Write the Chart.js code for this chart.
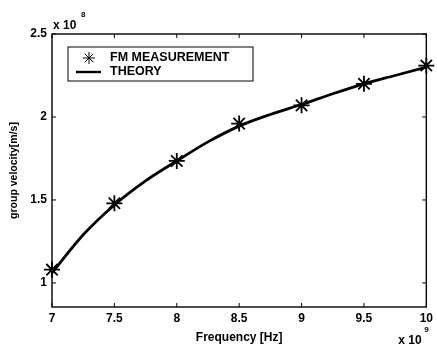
<!DOCTYPE html>
<html lang="en">
<head>
<meta charset="UTF-8">
<title>Group velocity vs frequency</title>
<style>
body { margin: 0; padding: 0; background: #fff; }
#wrap { width: 437px; height: 345px; position: relative; }
</style>
<script src="https://cdn.jsdelivr.net/npm/chart.js@4/dist/chart.umd.min.js"></script>
</head>
<body>
<div id="wrap"><canvas id="chart" width="437" height="345"></canvas></div>
<script>
// measured points (frequency x10^9 Hz, group velocity x10^8 m/s)
const measFreq = [7, 7.5, 8, 8.5, 9, 9.5, 10];
const measVel = [1.08, 1.48, 1.735, 1.96, 2.07, 2.20, 2.31];

// theory curve
const theoryFreq = [7, 7.25, 7.5, 7.75, 8, 8.25, 8.5, 8.75, 9, 9.25, 9.5, 9.75, 10];
const theoryVel = [1.06, 1.29, 1.47, 1.615, 1.735, 1.85, 1.945, 2.015, 2.075, 2.14, 2.20, 2.25, 2.30];

const xTicks = [7, 7.5, 8, 8.5, 9, 9.5, 10];
const yTicks = [1, 1.5, 2, 2.5];

const FAMILY = '"Liberation Sans", Arial, sans-serif';

// box, inward ticks, exponent labels and the legend box
const decorations = {
    id: 'decorations',
    afterDraw(chart) {
        const ctx = chart.ctx;
        const a = chart.chartArea;
        const xs = chart.scales.x, ys = chart.scales.y;
        ctx.save();
        ctx.strokeStyle = '#000';
        ctx.lineWidth = 1.4;
        ctx.strokeRect(a.left, a.top, a.right - a.left, a.bottom - a.top);
        ctx.lineWidth = 1;
        xTicks.forEach(v => {
            const px = xs.getPixelForValue(v);
            ctx.beginPath();
            ctx.moveTo(px, a.bottom); ctx.lineTo(px, a.bottom - 4);
            ctx.moveTo(px, a.top); ctx.lineTo(px, a.top + 4);
            ctx.stroke();
        });
        yTicks.forEach(v => {
            const py = ys.getPixelForValue(v);
            ctx.beginPath();
            ctx.moveTo(a.left, py); ctx.lineTo(a.left + 4, py);
            ctx.moveTo(a.right, py); ctx.lineTo(a.right - 4, py);
            ctx.stroke();
        });

        // exponents
        ctx.fillStyle = '#000';
        ctx.font = 'bold 12px ' + FAMILY;
        ctx.textBaseline = 'alphabetic';
        ctx.textAlign = 'left';
        ctx.fillText('x 10', a.left + 1, a.top - 5);
        ctx.fillText('x 10', a.right - 28, a.bottom + 37);
        ctx.font = 'bold 8px ' + FAMILY;
        ctx.fillText('8', a.left + 29, a.top - 17);
        ctx.fillText('9', a.right - 2, a.bottom + 25);

        // legend
        const lx = 68, ly = 47, lw = 185, lh = 34;
        ctx.fillStyle = '#fff';
        ctx.fillRect(lx, ly, lw, lh);
        ctx.strokeStyle = '#000';
        ctx.lineWidth = 1;
        ctx.strokeRect(lx, ly, lw, lh);
        Chart.helpers.drawPoint(ctx, {pointStyle: 'star', radius: 6, rotation: 0, borderWidth: 1.8}, 89, ly + 11);
        ctx.lineWidth = 2.4;
        ctx.beginPath();
        ctx.moveTo(76, ly + 25); ctx.lineTo(101, ly + 25);
        ctx.stroke();
        ctx.fillStyle = '#000';
        ctx.font = 'bold 12.5px ' + FAMILY;
        ctx.textBaseline = 'middle';
        ctx.fillText('FM MEASUREMENT', 110, ly + 11);
        ctx.fillText('THEORY', 110, ly + 25);
        ctx.restore();
    }
};

new Chart(document.getElementById('chart'), {
    type: 'scatter',
    data: {
        datasets: [
            {
                label: 'FM MEASUREMENT',
                data: measFreq.map((f, i) => ({x: f, y: measVel[i]})),
                pointStyle: 'star',
                pointRadius: 8,
                pointBorderWidth: 1.8,
                borderColor: '#000',
                backgroundColor: '#000',
                showLine: false,
                order: 0
            },
            {
                label: 'THEORY',
                data: theoryFreq.map((f, i) => ({x: f, y: theoryVel[i]})),
                showLine: true,
                pointRadius: 0,
                borderColor: '#000',
                borderWidth: 2.8,
                cubicInterpolationMode: 'monotone',
                order: 1
            }
        ]
    },
    options: {
        responsive: false,
        animation: false,
        clip: false,
        layout: { padding: { top: 34, right: 7, left: 8, bottom: 0 } },
        plugins: {
            legend: { display: false },
            tooltip: { enabled: false }
        },
        scales: {
            x: {
                type: 'linear',
                min: 7,
                max: 10,
                afterBuildTicks: s => { s.ticks = xTicks.map(v => ({value: v})); },
                afterFit: s => { s.height = 38; },
                grid: { display: false, drawTicks: false },
                border: { display: false },
                ticks: {
                    color: '#000',
                    padding: 4,
                    font: { family: FAMILY, size: 12, weight: 'bold' },
                    maxRotation: 0,
                    callback: v => String(v)
                },
                title: {
                    display: true,
                    text: 'Frequency [Hz]',
                    color: '#000',
                    padding: { top: 0, bottom: 0 },
                    font: { family: FAMILY, size: 12, weight: 'bold' }
                }
            },
            y: {
                min: 0.855,
                max: 2.5,
                afterBuildTicks: s => { s.ticks = yTicks.map(v => ({value: v})); },
                afterFit: s => { s.width = 44; },
                grid: { display: false, drawTicks: false },
                border: { display: false },
                ticks: {
                    color: '#000',
                    padding: 5,
                    font: { family: FAMILY, size: 12, weight: 'bold' },
                    callback: v => String(v)
                },
                title: {
                    display: true,
                    text: 'group velocity[m/s]',
                    color: '#000',
                    padding: { top: 0, bottom: 4 },
                    font: { family: FAMILY, size: 10.5, weight: 'bold' }
                }
            }
        }
    },
    plugins: [decorations]
});
</script>
</body>
</html>
